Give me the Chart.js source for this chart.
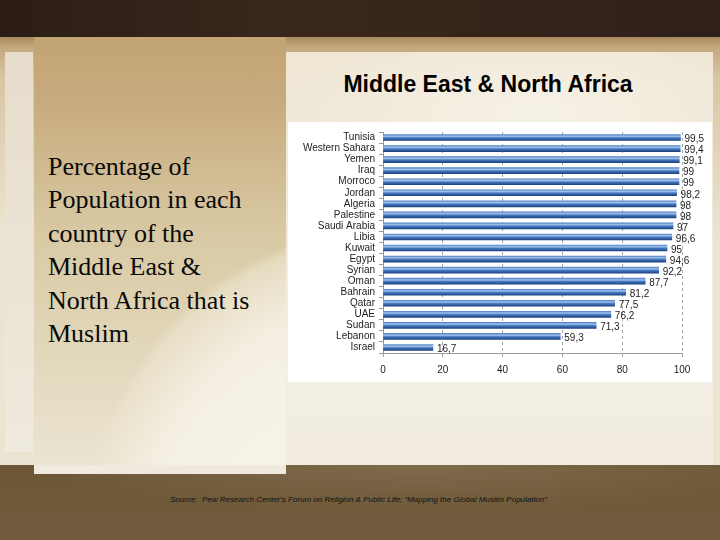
<!DOCTYPE html>
<html>
<head>
<meta charset="utf-8">
<script src="https://cdn.jsdelivr.net/npm/chart.js@4"></script>
<style>
  body { margin: 0; width: 720px; height: 540px; overflow: hidden; position: relative;
         background: linear-gradient(to bottom, #2e1f17 0, #2e1f17 37px, #6a5434 465px, #6f5a3b 540px); }
  .abs { position: absolute; }
  #topband { left: 0; top: 0; width: 720px; height: 37px; background: linear-gradient(to right, #2b1d16, #3a271c 40%, #2f2018); }
  #mid { left: 0; top: 37px; width: 720px; height: 428px; background: linear-gradient(to bottom, #a88a5e 0, #c4a87c 10px, #d8c6a4 40px, #ece4d2 200px); }
  #strip { left: 5px; top: 52px; width: 28px; height: 400px; background: linear-gradient(to bottom, #e6dccb, #efeade); }
  #leftpanel { left: 34px; top: 37px; width: 252px; height: 437px;
               background: radial-gradient(ellipse 420px 520px at 330px 560px, rgba(250,248,240,1) 0, rgba(245,240,228,0.95) 55%, rgba(236,228,206,0.6) 68%, rgba(0,0,0,0) 70%),
                           linear-gradient(to bottom, #c3a474 0, #c7aa7c 60px, #d9caa5 200px, #ebe5d2 437px); }
  #rightpanel { left: 286px; top: 52px; width: 427px; height: 413px;
                background: radial-gradient(ellipse 300px 120px at 250px 60px, #f6f1e6, rgba(240,233,216,0) 80%), linear-gradient(to bottom, #efe6d4, #f3eee3 300px, #f2ede0); }
  #bottomband { left: 0; top: 465px; width: 720px; height: 75px; background: radial-gradient(ellipse 500px 60px at 420px 0, #7f6b4c, rgba(106,84,52,0) 80%), linear-gradient(to bottom, #6b5535, #715d3e); }
  #leftpanel2 { left: 34px; top: 465px; width: 252px; height: 9px; background: #efeadd; }
  #heading { left: 288px; top: 71px; width: 400px; text-align: center; font: bold 23px "Liberation Sans", Arial, sans-serif; color: #000; }
  #desc { left: 48px; top: 150px; font: 26px/33.4px "Liberation Serif", "Times New Roman", serif; color: #0a0a0a; white-space: nowrap; }
  #source { left: 170px; top: 495px; font: italic 8px "Liberation Sans", Arial, sans-serif; color: #111; white-space: nowrap; }
  #box { left: 288px; top: 122px; width: 424px; height: 260px; background: #fff; }
</style>
</head>
<body>
<div class="abs" id="topband"></div>
<div class="abs" id="mid"></div>
<div class="abs" id="strip"></div>
<div class="abs" id="rightpanel"></div>
<div class="abs" id="bottomband"></div>
<div class="abs" id="leftpanel"></div>
<div class="abs" id="leftpanel2"></div>
<div class="abs" id="heading">Middle East &amp; North Africa</div>
<div class="abs" id="desc">Percentage of<br>Population in each<br>country of the<br>Middle East &amp;<br>North Africa that is<br>Muslim</div>
<div class="abs" id="source">Source:&nbsp; Pew Research Center's Forum on Religion &amp; Public Life; &ldquo;Mapping the Global Muslim Population&rdquo;</div>
<div class="abs" id="box"><canvas id="chart"></canvas></div>

<script>
const countries = ["Tunisia", "Western Sahara", "Yemen", "Iraq", "Morroco", "Jordan", "Algeria", "Palestine",
    "Saudi Arabia", "Libia", "Kuwait", "Egypt", "Syrian", "Oman", "Bahrain", "Qatar", "UAE", "Sudan", "Lebanon", "Israel"];
const muslimPct = [99.5, 99.4, 99.1, 99, 99, 98.2, 98, 98, 97, 96.6, 95, 94.6, 92.2, 87.7, 81.2, 77.5, 76.2, 71.3, 59.3, 16.7];
const xTicks = [0, 20, 40, 60, 80, 100];

const labelFont = "10px 'Liberation Sans', Arial, sans-serif";

// cylinder look: every bar gets its own vertical gradient (own options object, the shared one is not touched)
const barShading = {
    id: "barShading",
    beforeDatasetsDraw(chart) {
        const c = chart.ctx;
        chart.getDatasetMeta(0).data.forEach(el => {
            const top = el.y - el.height / 2;
            const g = c.createLinearGradient(0, top, 0, top + el.height);
            g.addColorStop(0, "#5584c8");
            g.addColorStop(0.3, "#a3c3ec");
            g.addColorStop(0.55, "#4677c0");
            g.addColorStop(1, "#1d4680");
            el.options = Object.assign({}, el.options, { backgroundColor: g });
        });
    }
};

// value labels with comma decimals
const valueLabels = {
    id: "valueLabels",
    afterDatasetsDraw(chart) {
        const c = chart.ctx;
        const ds = chart.data.datasets[0];
        c.save();
        c.font = labelFont;
        c.fillStyle = "#222";
        c.textBaseline = "middle";
        chart.getDatasetMeta(0).data.forEach((el, i) => {
            c.fillText(String(ds.data[i]).replace(".", ","), el.x + 4, el.y + 2);
        });
        c.restore();
    }
};

const ctx = document.getElementById("chart").getContext("2d");
const chart = new Chart(ctx, {
    type: "bar",
    data: {
        labels: countries,
        datasets: [{ data: muslimPct, backgroundColor: "#4f81bd", barThickness: 6 }]
    },
    options: {
        indexAxis: "y",
        animation: false,
        responsive: true,
        maintainAspectRatio: false,
        layout: { padding: { top: 8, right: 30, left: 0, bottom: 0 } },
        plugins: { legend: { display: false }, tooltip: { enabled: false } },
        scales: {
            x: {
                min: 0, max: 100,
                afterBuildTicks: s => { s.ticks = xTicks.map(v => ({ value: v })); },
                afterFit: s => { s.height = 29; },
                ticks: { color: "#222", font: { size: 10, family: "'Liberation Sans', Arial" }, padding: 7 },
                grid: { color: "#a6a6a6", tickLength: 4 },
                border: { color: "#9a9a9a", dash: [3, 3] }
            },
            y: {
                afterFit: s => { s.width = 95; },
                ticks: { color: "#222", font: { size: 10, family: "'Liberation Sans', Arial" }, padding: 4, autoSkip: false },
                grid: { drawOnChartArea: false, color: "#9a9a9a", tickLength: 4 },
                border: { color: "#9a9a9a" }
            }
        }
    },
    plugins: [barShading, valueLabels]
});
</script>
</body>
</html>
